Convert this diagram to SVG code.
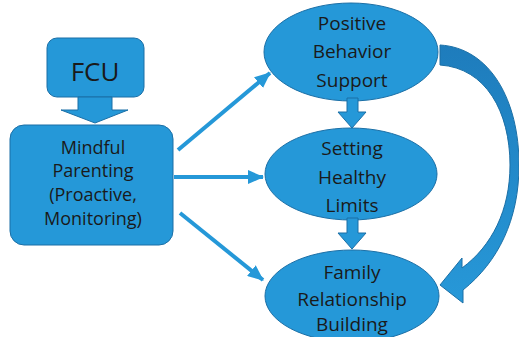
<svg xmlns="http://www.w3.org/2000/svg" width="519" height="337" viewBox="0 0 519 337">
  <style>
    .shape { fill: #2598d8; stroke: #1b6fa6; stroke-width: 1; }
    .label { font-family: "Open Sans", "Liberation Sans", sans-serif; font-size: 19px; fill: #1a1a1a; text-anchor: middle; }
    .box-label { font-size: 18px; }
    .big { font-size: 26px; }
    .link { stroke: #2598d8; stroke-width: 4; fill: none; }
  </style>
  <defs>
    <marker id="head" markerUnits="userSpaceOnUse" markerWidth="16" markerHeight="14" refX="15" refY="7" orient="auto">
      <path d="M0,0 L16,7 L0,14 Z" fill="#2598d8"/>
    </marker>
    <linearGradient id="curveFill" x1="0" y1="0" x2="0" y2="1">
      <stop offset="0" stop-color="#1e7cbc"/>
      <stop offset="1" stop-color="#2798d8"/>
    </linearGradient>
  </defs>

  <g id="fcu">
    <rect class="shape" x="47" y="38" width="97" height="59" rx="10"/>
    <text class="label big" x="95" y="81">FCU</text>
  </g>

  <g id="mindful-parenting">
    <rect class="shape" x="10" y="125" width="163" height="120" rx="14"/>
    <text class="label box-label" x="93" y="154">Mindful</text>
    <text class="label box-label" x="93" y="177">Parenting</text>
    <text class="label box-label" x="93" y="201">(Proactive,</text>
    <text class="label box-label" x="93" y="225">Monitoring)</text>
  </g>

  <g id="positive-behavior-support">
    <ellipse class="shape" cx="351" cy="52" rx="87" ry="49"/>
    <text class="label" x="352" y="30">Positive</text>
    <text class="label" x="352" y="58">Behavior</text>
    <text class="label" x="352" y="87">Support</text>
  </g>

  <g id="setting-healthy-limits">
    <ellipse class="shape" cx="351" cy="174" rx="86" ry="46"/>
    <text class="label" x="352" y="155">Setting</text>
    <text class="label" x="352" y="184">Healthy</text>
    <text class="label" x="352" y="212">Limits</text>
  </g>

  <g id="family-relationship-building">
    <ellipse class="shape" cx="352" cy="296" rx="87" ry="46"/>
    <text class="label" x="352" y="279">Family</text>
    <text class="label" x="352" y="306">Relationship</text>
    <text class="label" x="352" y="331">Building</text>
  </g>

  <g id="connectors">
    <!-- block arrows -->
    <path class="shape" d="M78,97 L112,97 L112,110 L128,110 L95,123 L61,110 L78,110 Z"/>
    <path class="shape" d="M347,98 L358,98 L358,112 L366,112 L352,128 L338,112 L347,112 Z"/>
    <path class="shape" d="M347,218 L358,218 L358,233 L366,233 L352,249 L338,233 L347,233 Z"/>
    <!-- thin arrows from the parenting box -->
    <line class="link" x1="178" y1="150" x2="270" y2="73" marker-end="url(#head)"/>
    <line class="link" x1="174" y1="177" x2="263" y2="177" marker-end="url(#head)"/>
    <line class="link" x1="180" y1="213" x2="263" y2="280" marker-end="url(#head)"/>
    <!-- curved return arrow -->
    <path d="M440,45 C490,48 519,100 519,165 C519,220 498,262 463,290 L463,303 L440,285 L462,258 L462,268 C492,246 510,210 510,165 C510,112 486,68 440,65 Z" fill="url(#curveFill)" stroke="#1b6fa6" stroke-width="1"/>
  </g>
</svg>
